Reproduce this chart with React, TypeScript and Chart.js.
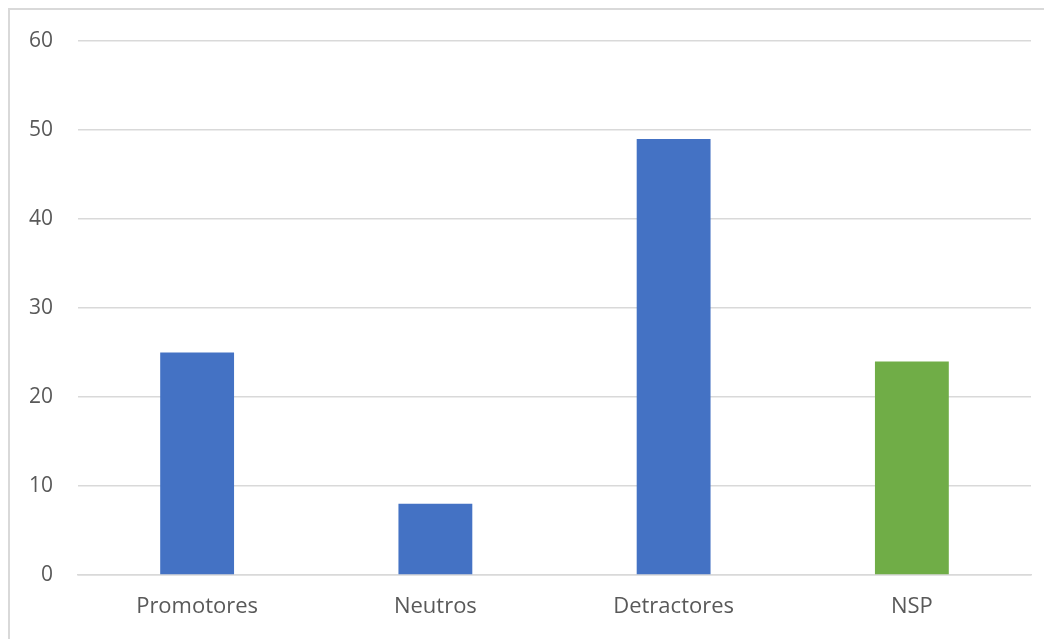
import React, { useEffect, useRef } from "react";
import { Chart, registerables } from "chart.js";

Chart.register(...registerables);

const categories = ["Promotores", "Neutros", "Detractores", "NSP"];
const values = [25, 8, 49, 24];
const barColors = ["#4472C4", "#4472C4", "#4472C4", "#70AD47"];
const yTicks = [0, 10, 20, 30, 40, 50, 60];

export default function App() {
  const ref = useRef<HTMLCanvasElement | null>(null);
  useEffect(() => {
    if (!ref.current) return;
    const chart = new Chart(ref.current, {
      type: "bar",
      data: {
        labels: categories,
        datasets: [
          {
            data: values,
            backgroundColor: barColors,
            barPercentage: 0.31,
            categoryPercentage: 1,
          },
        ],
      },
      options: {
        animation: false,
        responsive: false,
        maintainAspectRatio: false,
        layout: { padding: { top: 31, right: 21, left: 0, bottom: 0 } },
        plugins: { legend: { display: false }, tooltip: { enabled: false } },
        scales: {
          x: {
            grid: { display: false, drawTicks: false },
            border: { display: true, color: "#d9d9d9", width: 1.5 },
            ticks: {
              color: "#595959",
              font: { family: "'Open Sans'", size: 22 },
              padding: 19,
              maxRotation: 0,
            },
            afterFit: (s: any) => {
              s.height = 64;
              s.paddingLeft = 0;
              s.paddingRight = 0;
            },
          },
          y: {
            min: yTicks[0],
            max: yTicks[yTicks.length - 1],
            grid: { color: "#d9d9d9", lineWidth: 1.5, drawTicks: false },
            border: { display: false },
            ticks: {
              stepSize: 10,
              color: "#595959",
              font: { family: "'Open Sans'", size: 21 },
              padding: 25,
            },
            afterFit: (s: any) => {
              s.width = 68;
              s.paddingTop = 0;
              s.paddingBottom = 0;
            },
          },
        },
      },
    });
    return () => chart.destroy();
  }, []);
  return (
    <div
      style={{
        borderTop: "2px solid #d9d9d9",
        borderLeft: "2px solid #d9d9d9",
        width: 1042,
        height: 629,
        overflow: "hidden",
      }}
    >
      <canvas ref={ref} width={1042} height={629} style={{ display: "block" }} />
    </div>
  );
}
